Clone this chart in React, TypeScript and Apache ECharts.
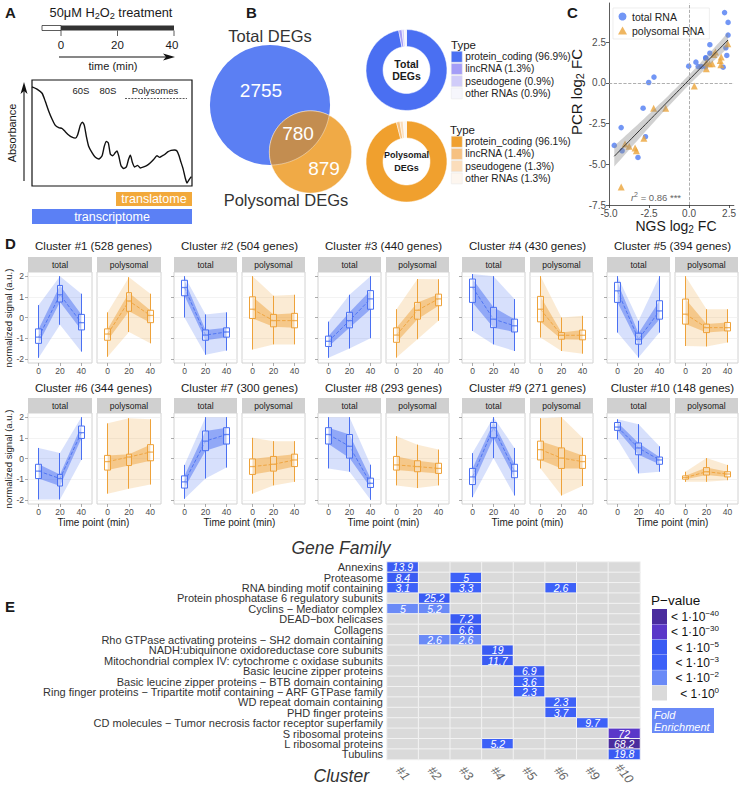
import React, { useEffect, useRef } from 'react';
import * as echarts from 'echarts';

const FONT = '"Liberation Sans", Arial, Helvetica, sans-serif';
const BLUE = '#4a70f2';
const ORANGE = '#eea23a';

// ---------- Panel A ----------
const treatmentTimes = [0, 20, 40];
const gradientPos = [0, 3.1, 6.3, 8.3, 10.4, 12.5, 14.6, 16.7, 18.8, 20.8, 22.9, 25, 27.1, 28.5, 30.2, 31.5, 32.7, 34, 35.4, 37.5, 39.6, 41.7, 43.8, 45.2, 46.5, 47.7, 49, 50.4, 52.1, 53.1, 54.2, 55.6, 57.3, 59, 60.4, 61.5, 62.7, 64.2, 66, 67.7, 69.8, 71.9, 74, 76, 78.1, 79.8, 81.5, 83.1, 84.8, 86.9, 89, 90.6, 91.9, 93.1, 94.4, 95.8, 96.9, 98.1, 99.6];
const absorbance = [95.3, 93.1, 89, 81.1, 71.7, 63.8, 57.5, 55.3, 54.4, 51.3, 48.1, 45.9, 45, 48.1, 57.5, 60.7, 57.5, 46.5, 37.1, 30.8, 26.1, 24.5, 27.7, 37.1, 41.8, 40.3, 29.2, 27.7, 30.8, 32.4, 27.7, 18.2, 15.1, 16.7, 24.5, 28.3, 21.4, 16.7, 18.2, 15.7, 16.7, 18.2, 20.8, 23.9, 27.7, 26.1, 27.7, 29.2, 31.4, 33, 33.3, 32.4, 27.7, 21.4, 15.1, 5.7, 0.9, 4.1, 7.2];

// ---------- Panel B ----------
const vennSets = ['Total DEGs', 'Polysomal DEGs'];
const vennCounts = [2755, 780, 879]; // total only, both, polysomal only
const rnaTypes = ['protein_coding', 'lincRNA', 'pseudogene', 'other RNAs'];
const totalTypePct = [96.9, 1.3, 0.9, 0.9];
const polyTypePct = [96.1, 1.4, 1.3, 1.3];
const totalTypeColors = ['#4a6ff2', '#a49df7', '#d0ccf9', '#f6f6fc'];
const polyTypeColors = ['#f0a02e', '#f6c181', '#fbddbb', '#fdf6ef'];

// ---------- Panel C ----------
const totalNGS = [2.22, 2.44, 2.44, 1.30, 1.30, 1.04, 0.43, -0.02, 0.57, 0.77, 1.04, 2.30, 2.36, 2.13, 1.05, -2.19, -2.52, -2.87, -2.72, -4.24, -4.67, -4.18, -3.19];
const totalPCR = [4.31, 3.71, 2.93, 2.34, 1.82, 1.54, 1.27, 1.02, 1.00, 1.00, 0.98, 2.15, 1.68, 0.96, 1.50, 0.35, 0.02, -1.56, -3.31, -2.75, -3.84, -4.17, -4.58];
const polyNGS = [2.42, 1.65, 1.55, 1.45, 1.08, 1.08, 1.28, 1.95, 2.01, 1.99, 0.33, -2.21, -1.46, -2.82, -4.0, -3.74, -3.37, -3.29, -4.24];
const polyPCR = [2.40, 1.89, 1.74, 1.17, 1.23, 0.86, 1.17, 1.37, 1.58, 1.11, -0.19, -1.56, -1.56, -3.41, -3.76, -3.90, -4.0, -4.17, -6.39];
const ngsTicks = [-5, -2.5, 0, 2.5];
const pcrTicks = [-7.5, -5, -2.5, 0, 2.5];

// ---------- Panel D ----------
const clusterIds = [1, 2, 3, 4, 5, 6, 7, 8, 9, 10];
const clusterGenes = [528, 504, 440, 430, 394, 344, 300, 293, 271, 148];
const timePoints = ['0', '20', '40'];
const rnaFractions = ['total', 'polysomal'];
// per cluster, per time point: [min, q1, median, q3, max]
const totalStats = [
  [[-1.95, -1.25, -0.95, -0.55, 0.6], [-0.35, 0.75, 1.1, 1.55, 2.0], [-1.65, -0.6, -0.25, 0.15, 1.15]],
  [[0, 1.05, 1.45, 1.8, 2.0], [-1.8, -1.1, -0.85, -0.6, 0.15], [-1.6, -0.95, -0.7, -0.5, 0.25]],
  [[-1.95, -1.4, -1.15, -0.9, -0.2], [-1.5, -0.5, -0.15, 0.25, 1.1], [-1.0, 0.4, 0.9, 1.3, 2.0]],
  [[-0.65, 0.73, 1.46, 1.86, 2.1], [-1.3, -0.49, -0.08, 0.49, 2.0], [-1.62, -0.7, -0.4, -0.08, 0.89]],
  [[-0.73, 0.73, 1.29, 1.7, 2.0], [-1.94, -1.29, -1.05, -0.76, -0.16], [-0.73, -0.08, 0.32, 0.81, 2.0]],
  [[-1.98, -0.97, -0.61, -0.28, 0.51], [-1.98, -1.33, -0.97, -0.77, 0.26], [-0.07, 0.97, 1.25, 1.57, 2.0]],
  [[-1.95, -1.43, -1.13, -0.84, -0.31], [-0.97, 0.38, 0.84, 1.33, 2.0], [-0.44, 0.7, 1.16, 1.49, 2.0]],
  [[-0.48, 0.7, 1.16, 1.49, 2.0], [-0.64, 0.02, 0.59, 1.16, 2.0], [-2.0, -1.4, -1.2, -0.95, -0.3]],
  [[-1.87, -1.26, -0.89, -0.48, 0.26], [0.02, 1.0, 1.49, 1.74, 2.0], [-1.79, -0.93, -0.61, -0.28, 0.51]],
  [[0.92, 1.36, 1.52, 1.74, 1.9], [-0.72, 0.18, 0.51, 0.75, 1.66], [-0.64, -0.28, -0.07, 0.07, 0.59]],
];
const polyStats = [
  [[-1.9, -1.1, -0.8, -0.55, 0.25], [-0.7, 0.3, 0.8, 1.2, 1.95], [-1.25, -0.25, 0.1, 0.35, 1.15]],
  [[-1.55, -0.05, 0.4, 1.0, 2.0], [-1.3, -0.45, -0.15, 0.15, 1.05], [-1.3, -0.5, -0.15, 0.2, 1.1]],
  [[-1.94, -1.2, -0.85, -0.5, 0.4], [-1.05, -0.08, 0.35, 0.73, 1.86], [-0.16, 0.57, 0.9, 1.13, 1.85]],
  [[-0.97, -0.21, 0.4, 1.02, 2.0], [-1.62, -1.05, -0.86, -0.73, 0], [-1.75, -1.08, -0.86, -0.61, 0.08]],
  [[-1.38, -0.32, 0.16, 0.89, 2.0], [-1.4, -0.73, -0.49, -0.32, 0.4], [-1.21, -0.65, -0.49, -0.24, 0.4]],
  [[-1.7, -0.56, -0.15, 0.15, 1.7], [-1.46, -0.34, 0.07, 0.21, 1.95], [-1.26, -0.11, 0.31, 0.67, 1.9]],
  [[-1.7, -0.77, -0.39, -0.02, 1.0], [-1.3, -0.61, -0.28, 0.1, 0.84], [-1.13, -0.39, -0.07, 0.21, 0.84]],
  [[-1.3, -0.56, -0.31, 0.1, 1.08], [-1.43, -0.64, -0.39, -0.11, 0.67], [-1.3, -0.72, -0.48, -0.23, 0.43]],
  [[-0.48, -0.07, 0.43, 0.84, 1.95], [-1.79, -0.48, 0.02, 0.51, 2.0], [-1.33, -0.48, -0.15, 0.15, 1.0]],
  [[-1.13, -1.0, -0.92, -0.84, -0.64], [-1.13, -0.8, -0.64, -0.44, 0.02], [-1.05, -0.89, -0.75, -0.64, -0.31]],
];
const signalTicks = [-2, -1, 0, 1, 2];

// ---------- Panel E ----------
const geneFamilies = [
  'Annexins', 'Proteasome', 'RNA binding motif containing', 'Protein phosphatase 6 regulatory subunits',
  'Cyclins − Mediator complex', 'DEAD−box helicases', 'Collagens',
  'Rho GTPase activating proteins − SH2 domain containing', 'NADH:ubiquinone oxidoreductase core subunits',
  'Mitochondrial complex IV: cytochrome c oxidase subunits', 'Basic leucine zipper proteins',
  'Basic leucine zipper proteins − BTB domain containing',
  'Ring finger proteins − Tripartite motif containing − ARF GTPase family', 'WD repeat domain containing',
  'PHD finger proteins', 'CD molecules − Tumor necrosis factor receptor superfamily', 'S ribosomal proteins',
  'L ribosomal proteins', 'Tubulins',
];
const clusterCols = ['#1', '#2', '#3', '#4', '#5', '#6', '#9', '#10'];
// [familyIndex, clusterColumnIndex, foldEnrichment, pValueLevel]
const enrichment = [
  [0, 0, 13.9, 3], [1, 0, 8.4, 3], [1, 2, 5, 2], [2, 0, 3.1, 2], [2, 2, 3.3, 2], [2, 5, 2.6, 2],
  [3, 1, 25.2, 3], [4, 0, 5, 1], [4, 1, 5.2, 1], [5, 2, 7.2, 3], [6, 2, 6.6, 3], [7, 1, 2.6, 1],
  [7, 2, 2.6, 1], [8, 3, 19, 3], [9, 3, 11.7, 3], [10, 4, 6.9, 3], [11, 4, 3.6, 2], [12, 4, 2.3, 2],
  [13, 5, 2.3, 2], [14, 5, 3.7, 2], [15, 6, 9.7, 2], [16, 7, 72, 4], [17, 3, 5.2, 2], [17, 7, 68.2, 5],
  [18, 7, 19.8, 3],
];
const pLevelExp = ['0', '−2', '−3', '−5', '−30', '−40'];
const pLevelColors = ['#dadada', '#6a8af7', '#3d61f8', '#3a5bf3', '#5a37c9', '#4a2c9e'];

function lensPolygon(c1: number[], r1: number, c2: number[], r2: number) {
  const dx = c2[0] - c1[0], dy = c2[1] - c1[1];
  const d = Math.hypot(dx, dy);
  const a = (r1 * r1 - r2 * r2 + d * d) / (2 * d);
  const t12 = Math.atan2(dy, dx);
  const t21 = t12 + Math.PI;
  const a1 = Math.acos(a / r1);
  const a2 = Math.acos((d - a) / r2);
  const pts: number[][] = [];
  const N = 40;
  for (let i = 0; i <= N; i++) { const t = t12 - a1 + (2 * a1 * i) / N; pts.push([c1[0] + r1 * Math.cos(t), c1[1] + r1 * Math.sin(t)]); }
  for (let i = 0; i <= N; i++) { const t = t21 - a2 + (2 * a2 * i) / N; pts.push([c2[0] + r2 * Math.cos(t), c2[1] + r2 * Math.sin(t)]); }
  return pts;
}

function buildOption() {
  const grids: any[] = [], xAxes: any[] = [], yAxes: any[] = [], series: any[] = [], g: any[] = [];
  const T = (x: number, y: number, text: string, o: any = {}) => ({
    type: 'text', x, y, rotation: o.rot || 0, silent: true, z: 50,
    style: {
      text, fill: o.fill || '#1a1a1a', fontSize: o.size || 12, fontFamily: FONT,
      fontWeight: o.weight || 'normal', fontStyle: o.italic ? 'italic' : 'normal',
      align: o.align || 'center', verticalAlign: o.va || 'middle', lineHeight: o.lh, rich: o.rich,
    },
  });
  const sub = (size: number, fill = '#1a1a1a', lh = 16) => ({
    n: { fontSize: size, fontFamily: FONT, fill, lineHeight: lh },
    s: { fontSize: size * 0.72, fontFamily: FONT, fill, verticalAlign: 'bottom' },
  });

  // ===== Panel A =====
  g.push(T(5, 12, 'A', { size: 15, weight: 'bold', align: 'left' }));
  g.push(T(111, 12, '{n|50μM H}{s|2}{n|O}{s|2}{n| treatment}', { rich: sub(12.8) }));
  const tx = (t: number) => 61 + (t / 40) * 113;
  g.push({ type: 'rect', shape: { x: 42, y: 25.5, width: 19, height: 5 }, style: { fill: '#fff', stroke: '#333', lineWidth: 0.8 } });
  g.push({ type: 'rect', shape: { x: 61, y: 25.5, width: 113, height: 5 }, style: { fill: '#333' } });
  treatmentTimes.forEach((t) => {
    g.push({ type: 'line', shape: { x1: tx(t), y1: 30.5, x2: tx(t), y2: 36 }, style: { stroke: '#333', lineWidth: 0.8 } });
    g.push(T(tx(t) - (t === 40 ? 2 : 0), 45, String(t), { size: 11.5 }));
  });
  g.push({ type: 'line', shape: { x1: 59, y1: 57, x2: 166, y2: 57 }, style: { stroke: '#111', lineWidth: 1.1 } });
  g.push({ type: 'polygon', shape: { points: [[175, 57], [163, 53.5], [166, 57], [163, 60.5]] }, style: { fill: '#111' } });
  g.push(T(113, 66, 'time (min)', { size: 11 }));

  grids.push({ left: 32, top: 80, width: 160, height: 106, show: true, borderColor: '#111', borderWidth: 1.2, backgroundColor: 'transparent' });
  xAxes.push({ gridIndex: 0, type: 'value', min: 0, max: 100, show: false });
  yAxes.push({ gridIndex: 0, type: 'value', min: -2, max: 102, show: false });
  series.push({
    type: 'line', xAxisIndex: 0, yAxisIndex: 0, silent: true, symbol: 'none', smooth: 0.2,
    data: gradientPos.map((x, i) => [x, absorbance[i]]), lineStyle: { color: '#111', width: 1.4 },
  });
  g.push(T(81, 90.5, '60S', { size: 9.5 }));
  g.push(T(108, 90.5, '80S', { size: 9.5 }));
  g.push(T(155, 90.5, 'Polysomes', { size: 9.5 }));
  g.push({ type: 'line', shape: { x1: 125, y1: 98.5, x2: 187, y2: 98.5 }, style: { stroke: '#333', lineWidth: 0.8, lineDash: [2, 1.2] } });
  g.push({ type: 'line', shape: { x1: 24, y1: 181, x2: 24, y2: 90 }, style: { stroke: '#111', lineWidth: 1.1 } });
  g.push({ type: 'polygon', shape: { points: [[24, 82], [20.5, 94], [24, 91], [27.5, 94]] }, style: { fill: '#111' } });
  g.push(T(12, 133, 'Absorbance', { size: 11, rot: Math.PI / 2 }));
  g.push({ type: 'rect', shape: { x: 116, y: 192, width: 76, height: 14 }, style: { fill: '#f2a93b' } });
  g.push(T(154, 199, 'translatome', { size: 12.5, fill: '#fff' }));
  g.push({ type: 'rect', shape: { x: 32, y: 209, width: 160, height: 15 }, style: { fill: '#5b80f5' } });
  g.push(T(112, 216.5, 'transcriptome', { size: 12.5, fill: '#fff' }));

  // ===== Panel B =====
  g.push(T(246, 12, 'B', { size: 15, weight: 'bold', align: 'left' }));
  const k = 1.01;
  const rTot = k * Math.sqrt(vennCounts[0] + vennCounts[1]);
  const rPoly = k * Math.sqrt(vennCounts[2] + vennCounts[1]);
  const cTot = [270, 105], cPoly = [310.5, 152];
  g.push({ type: 'circle', shape: { cx: cTot[0], cy: cTot[1], r: rTot }, style: { fill: '#5b7ff3' } });
  g.push({ type: 'circle', shape: { cx: cPoly[0], cy: cPoly[1], r: rPoly }, style: { fill: '#f0aa46', stroke: 'rgba(255,255,255,0.6)', lineWidth: 0.8 } });
  g.push({ type: 'polygon', shape: { points: lensPolygon(cTot, rTot, cPoly, rPoly) }, style: { fill: '#c38d50', stroke: 'rgba(255,255,255,0.5)', lineWidth: 0.8 } });
  g.push(T(270, 36, vennSets[0], { size: 16.5, fill: '#333' }));
  g.push(T(286, 200, vennSets[1], { size: 16.5, fill: '#333' }));
  g.push(T(261, 90, String(vennCounts[0]), { size: 19, fill: '#fff' }));
  g.push(T(298, 133, String(vennCounts[1]), { size: 19, fill: '#fff' }));
  g.push(T(324, 168, String(vennCounts[2]), { size: 19, fill: '#fff' }));

  const totalNames = rnaTypes.map((t, i) => `${t} (${totalTypePct[i]}%)`);
  const polyNames = rnaTypes.map((t, i) => `${t} (${polyTypePct[i]}%)`);
  const pieBase = {
    type: 'pie', silent: true, startAngle: 90, clockwise: true, radius: [23.5, 40.5],
    label: { show: false }, labelLine: { show: false }, itemStyle: { borderColor: '#fff', borderWidth: 0.5 },
  };
  series.push({ ...pieBase, name: 'Total DEGs', center: [406.5, 70], data: totalNames.map((n, i) => ({ name: n, value: totalTypePct[i], itemStyle: { color: totalTypeColors[i] } })) });
  series.push({ ...pieBase, name: 'Polysomal DEGs', center: [406.5, 161.5], data: polyNames.map((n, i) => ({ name: n, value: polyTypePct[i], itemStyle: { color: polyTypeColors[i] } })) });
  g.push(T(406.5, 70, 'Total\nDEGs', { size: 10.5, weight: 'bold', lh: 12 }));
  g.push(T(406.5, 161.5, 'Polysomal\nDEGs', { size: 9, weight: 'bold', lh: 13 }));
  g.push(T(451, 45, 'Type', { size: 11.5, align: 'left' }));
  g.push(T(450, 130, 'Type', { size: 11.5, align: 'left' }));

  // ===== Panel C =====
  g.push(T(567, 12, 'C', { size: 15, weight: 'bold', align: 'left' }));
  const gc = grids.length;
  grids.push({ left: 609, top: 3, width: 128, height: 202 });
  const axC = (min: number, max: number, ticks: number[]) => ({
    gridIndex: gc, type: 'value', min, max,
    axisLine: { show: true, onZero: false, lineStyle: { color: '#333', width: 0.8 } },
    axisTick: { show: true, length: 3, customValues: ticks, lineStyle: { color: '#333', width: 0.8 } },
    axisLabel: { customValues: ticks, formatter: (v: number) => v.toFixed(1), color: '#4d4d4d', fontSize: 10, fontFamily: FONT, margin: 3 },
    splitLine: { show: false },
  });
  xAxes.push(axC(-5, 2.8, ngsTicks));
  yAxes.push(axC(-7.5, 4.9, pcrTicks));
  const allX = [...totalNGS, ...polyNGS], allY = [...totalPCR, ...polyPCR];
  const n = allX.length;
  const mx = allX.reduce((a, b) => a + b, 0) / n, my = allY.reduce((a, b) => a + b, 0) / n;
  let sxx = 0, sxy = 0;
  allX.forEach((x, i) => { sxx += (x - mx) ** 2; sxy += (x - mx) * (allY[i] - my); });
  const slope = sxy / sxx, icpt = my - slope * mx;
  let sse = 0;
  allX.forEach((x, i) => { sse += (allY[i] - icpt - slope * x) ** 2; });
  const s = Math.sqrt(sse / (n - 2));
  const xmin = Math.min(...allX), xmax = Math.max(...allX);
  const fit: number[][] = [];
  for (let i = 0; i <= 40; i++) {
    const x = xmin + ((xmax - xmin) * i) / 40;
    const yh = icpt + slope * x;
    const se = s * Math.sqrt(1 / n + (x - mx) ** 2 / sxx);
    fit.push([x, yh, yh - 2.02 * se, yh + 2.02 * se]);
  }
  series.push({
    type: 'scatter', name: 'total RNA', xAxisIndex: gc, yAxisIndex: gc, symbol: 'circle', symbolSize: 5.5,
    itemStyle: { color: '#4f7cf2' }, data: totalNGS.map((x, i) => [x, totalPCR[i]]), z: 3,
    markLine: {
      silent: true, symbol: ['none', 'none'], label: { show: false },
      lineStyle: { type: 'dashed', color: '#9a9a9a', width: 0.8 }, data: [{ xAxis: 0 }, { yAxis: 0 }],
    },
  });
  series.push({
    type: 'scatter', name: 'polysomal RNA', xAxisIndex: gc, yAxisIndex: gc, symbol: 'triangle', symbolSize: 7,
    itemStyle: { color: '#eba43a' }, data: polyNGS.map((x, i) => [x, polyPCR[i]]), z: 3,
  });
  series.push({
    type: 'custom', xAxisIndex: gc, yAxisIndex: gc, silent: true, z: 4, data: fit,
    encode: { x: 0, y: [2, 3] },
    renderItem: (params: any, api: any) => {
      if (params.dataIndex !== 0) return null;
      const up = fit.map((p) => api.coord([p[0], p[3]]));
      const lo = fit.map((p) => api.coord([p[0], p[2]])).reverse();
      return { type: 'polygon', shape: { points: up.concat(lo) }, style: { fill: 'rgba(140,140,140,0.4)' } };
    },
  });
  series.push({
    type: 'line', xAxisIndex: gc, yAxisIndex: gc, silent: true, symbol: 'none', z: 5,
    data: fit.map((p) => [p[0], p[1]]), lineStyle: { color: '#333', width: 1 },
  });
  g.push(T(676, 226, '{n|NGS log}{s|2}{n| FC}', { rich: sub(14) }));
  g.push(T(576, 92, '{n|PCR log}{s|2}{n| FC}', { rich: sub(15, '#1a1a1a', 18), rot: Math.PI / 2 }));
  g.push(T(656, 197, '{i|r}{p|2}{n| = 0.86 ***}', {
    rich: {
      i: { fontSize: 9.5, fontStyle: 'italic', fontFamily: FONT, fill: '#666', lineHeight: 12 },
      p: { fontSize: 7, fontFamily: FONT, fill: '#666', verticalAlign: 'top' },
      n: { fontSize: 9.5, fontFamily: FONT, fill: '#666', lineHeight: 12 },
    },
  }));

  // ===== Panel D =====
  g.push(T(5, 243, 'D', { size: 15, weight: 'bold', align: 'left' }));
  const colLefts = [28, 174, 318, 462, 607];
  const rowTops = [272, 413];
  const PH = 91, POFF = 68;
  const titleY = [246, 388];
  clusterIds.forEach((id, ci) => {
    const r = Math.floor(ci / 5), c = ci % 5;
    const L = colLefts[c];
    const PW = c === 0 ? 64 : 63;
    g.push(T(L + 65.5, titleY[r], `Cluster #${id} (${clusterGenes[ci]} genes)`, { size: 11.5 }));
    if (r === 1) g.push(T(L + 65.5, 522.5, 'Time point (min)', { size: 10 }));
    [totalStats[ci], polyStats[ci]].forEach((stats, j) => {
      const left = L + j * (c === 0 ? 69 : POFF);
      const gi = grids.length;
      const col = j === 0 ? BLUE : ORANGE;
      const fanOuter = j === 0 ? 'rgba(74,112,242,0.22)' : 'rgba(238,162,58,0.22)';
      const fanInner = j === 0 ? 'rgba(60,100,242,0.45)' : 'rgba(238,158,48,0.45)';
      grids.push({ left, top: rowTops[r], width: PW, height: PH, show: true, borderColor: '#d2d2d2', borderWidth: 1, backgroundColor: '#fff' });
      g.push({ type: 'rect', shape: { x: left, y: rowTops[r] - 15, width: PW, height: 15 }, style: { fill: '#d0d0d0' }, z: 40 });
      g.push(T(left + PW / 2, rowTops[r] - 7.5, rnaFractions[j], { size: 8.5 }));
      xAxes.push({
        gridIndex: gi, type: 'category', data: timePoints, boundaryGap: true,
        axisLine: { show: false, onZero: false },
        axisTick: { show: true, alignWithLabel: true, length: 3, lineStyle: { color: '#888', width: 0.7 } },
        axisLabel: { interval: 0, color: '#4d4d4d', fontSize: 8.5, fontFamily: FONT, margin: 3 },
        splitLine: { show: false },
      });
      yAxes.push({
        gridIndex: gi, type: 'value', min: -2.2, max: 2.2,
        axisLine: { show: false, onZero: false },
        axisTick: { show: j === 0, length: 3, customValues: signalTicks, lineStyle: { color: '#888', width: 0.7 } },
        axisLabel: { show: ci % 5 === 0 && j === 0, customValues: signalTicks, color: '#4d4d4d', fontSize: 8.5, fontFamily: FONT, margin: 4 },
        splitLine: { show: true, lineStyle: { color: '#eeeeee', width: 0.7 } },
      });
      series.push({
        type: 'custom', xAxisIndex: gi, yAxisIndex: gi, silent: true, z: 1,
        data: stats.map((st, ti) => [ti, st[0], st[1], st[3], st[4]]),
        encode: { x: 0, y: [1, 2, 3, 4] },
        renderItem: (params: any, api: any) => {
          if (params.dataIndex !== 0) return null;
          const poly = (lo: number, hi: number) => {
            const up = stats.map((st, ti) => api.coord([ti, st[hi]]));
            const dn = stats.map((st, ti) => api.coord([ti, st[lo]])).reverse();
            return up.concat(dn);
          };
          return {
            type: 'group', children: [
              { type: 'polygon', shape: { points: poly(0, 4) }, style: { fill: fanOuter } },
              { type: 'polygon', shape: { points: poly(1, 3) }, style: { fill: fanInner } },
            ],
          };
        },
      });
      series.push({
        type: 'line', xAxisIndex: gi, yAxisIndex: gi, silent: true, symbol: 'none', z: 2,
        data: stats.map((st) => st[2]), lineStyle: { color: col, width: 0.9, type: 'dashed' },
      });
      series.push({
        type: 'candlestick', xAxisIndex: gi, yAxisIndex: gi, silent: true, z: 3, barWidth: 6,
        data: stats.map((st) => [st[1], st[3], st[0], st[4]]),
        itemStyle: { color: 'rgba(255,255,255,0.35)', color0: 'rgba(255,255,255,0.35)', borderColor: col, borderColor0: col, borderWidth: 1 },
      });
      series.push({
        type: 'scatter', xAxisIndex: gi, yAxisIndex: gi, silent: true, z: 4, symbol: 'rect', symbolSize: [6, 1.3],
        data: stats.map((st) => st[2]), itemStyle: { color: col },
      });
    });
  });
  g.push(T(8, 318, 'normalized signal (a.u.)', { size: 9.5, rot: Math.PI / 2 }));
  g.push(T(8, 459, 'normalized signal (a.u.)', { size: 9.5, rot: Math.PI / 2 }));

  // ===== Panel E =====
  g.push(T(5, 606, 'E', { size: 15, weight: 'bold', align: 'left' }));
  g.push(T(341, 548, 'Gene Family', { size: 17.5, italic: true, fill: '#333' }));
  g.push(T(369, 776, 'Cluster', { size: 17.5, italic: true, fill: '#333', align: 'right' }));
  const ge = grids.length;
  grids.push({ left: 387, top: 562, width: 253, height: 198.5 });
  xAxes.push({
    gridIndex: ge, type: 'category', data: clusterCols, axisLine: { show: false }, axisTick: { show: false },
    axisLabel: { interval: 0, rotate: -50, fontStyle: 'italic', color: '#666', fontSize: 12.5, fontFamily: FONT, margin: 14, align: 'center', verticalAlign: 'middle' },
    splitLine: { show: false },
  });
  yAxes.push({
    gridIndex: ge, type: 'category', data: geneFamilies, inverse: true, axisLine: { show: false }, axisTick: { show: false },
    axisLabel: { interval: 0, color: '#333', fontSize: 11, fontFamily: FONT, margin: 4, lineHeight: 10.4 },
    splitLine: { show: false },
  });
  const heatData: any[] = [];
  geneFamilies.forEach((_, r) => {
    clusterCols.forEach((__, c) => {
      const e = enrichment.find((q) => q[0] === r && q[1] === c);
      heatData.push([c, r, e ? e[3] : 0, e ? e[2] : -1]);
    });
  });
  const heatIdx = series.length;
  series.push({
    type: 'heatmap', xAxisIndex: ge, yAxisIndex: ge, silent: true, data: heatData,
    itemStyle: { borderColor: '#f2f2f2', borderWidth: 1 },
    label: {
      show: true, color: '#fff', fontStyle: 'italic', fontSize: 10.5, fontFamily: FONT,
      formatter: (p: any) => (p.value[3] >= 0 ? String(p.value[3]) : ''),
    },
    emphasis: { disabled: true },
  });
  g.push(T(651, 600, 'P−value', { size: 13.5, align: 'left', fill: '#111' }));
  for (let i = 0; i < 6; i++) {
    const lvl = 5 - i;
    const y = 609 + i * 15.3;
    g.push({ type: 'rect', shape: { x: 652, y, width: 15, height: 15 }, style: { fill: pLevelColors[lvl] } });
    g.push(T(719, y + 8, `{b|< 1·10}{s|${pLevelExp[lvl]}}`, {
      align: 'right',
      rich: {
        b: { fontSize: 12, fontFamily: FONT, fill: '#111', lineHeight: 15 },
        s: { fontSize: 8, fontFamily: FONT, fill: '#111', verticalAlign: 'top' },
      },
    }));
  }
  g.push({ type: 'rect', shape: { x: 652, y: 708, width: 62, height: 25 }, style: { fill: '#6a8af7' } });
  g.push(T(654, 720.5, 'Fold\nEnrichment', { size: 11, italic: true, fill: '#fff', align: 'left', lh: 12 }));

  const pieLegend = {
    orient: 'vertical', icon: 'rect', itemWidth: 11, itemHeight: 11, itemGap: 0.7, padding: 0, left: 451,
    textStyle: { fontSize: 10.2, lineHeight: 11, color: '#222', fontFamily: FONT, padding: [0, 0, 0, -2] },
    selectedMode: false, itemStyle: { borderColor: '#e6e6e6', borderWidth: 0.5 },
  };
  return {
    animation: false,
    textStyle: { fontFamily: FONT },
    grid: grids, xAxis: xAxes, yAxis: yAxes, series,
    legend: [
      {
        data: ['total RNA', 'polysomal RNA'], left: 613, top: 8, orient: 'vertical', itemWidth: 9, itemHeight: 8, itemGap: 3,
        textStyle: { fontSize: 10.5, color: '#222', fontFamily: FONT }, padding: [3, 5], backgroundColor: '#fff', borderColor: '#e2e2e2', borderWidth: 0.6, selectedMode: false,
      },
      { ...pieLegend, data: totalNames, top: 51 },
      { ...pieLegend, data: polyNames, top: 136 },
    ],
    visualMap: [{
      type: 'piecewise', show: false, dimension: 2, seriesIndex: heatIdx,
      pieces: pLevelColors.map((c, i) => ({ value: i, color: c })),
    }],
    graphic: { elements: g },
  };
}

export default function App() {
  const ref = useRef<HTMLDivElement>(null);
  useEffect(() => {
    if (!ref.current) return;
    const chart = echarts.init(ref.current, null, { renderer: 'svg' });
    chart.setOption(buildOption() as any);
    return () => chart.dispose();
  }, []);
  return <div ref={ref} style={{ position: 'absolute', left: 0, top: 0, width: 739, height: 788, background: '#fff' }} />;
}
